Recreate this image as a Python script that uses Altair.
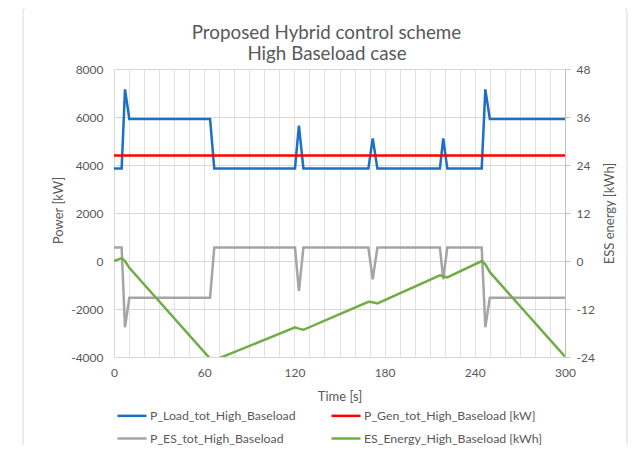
import altair as alt
import pandas as pd

title_lines = ["Proposed Hybrid control scheme", "High Baseload case"]

series_names = [
    "P_Load_tot_High_Baseload",
    "P_Gen_tot_High_Baseload [kW]",
    "P_ES_tot_High_Baseload",
    "ES_Energy_High_Baseload [kWh]",
]
series_colors = ["#1C6FC2", "#FF0000", "#A5A5A5", "#70AD47"]

load_t = [0, 5.1, 7.3, 10.2, 63.9, 66.7, 120.4, 123, 126, 169.2, 172.1, 175.2,
          216.8, 219, 221.7, 244.6, 247, 250, 300]
load_kw = [3850, 3850, 7150, 5920, 5920, 3850, 3850, 5640, 3850, 3850, 5110, 3850,
           3850, 5110, 3850, 3850, 7150, 5920, 5920]

gen_t = [0, 300]
gen_kw = [4400, 4400]

es_t = [0, 5.1, 7.3, 10.2, 63.9, 66.7, 120.4, 123, 126, 169.2, 172.1, 175.2,
        216.8, 219, 221.7, 244.6, 247, 250, 300]
es_kw = [560, 560, -2760, -1530, -1530, 560, 560, -1250, 560, 560, -760, 560,
         560, -760, 560, 560, -2760, -1530, -1530]

energy_t = [0, 5.1, 7.3, 10.2, 63.9, 66.7, 120.4, 123, 126, 169.2, 172.1, 175.2,
            216.8, 219, 221.7, 244.6, 247, 250, 300]
energy_kwh = [0, 0.7, 0.0, -1.7, -24.4, -24.8, -16.6, -16.9, -17.2, -10.2, -10.3, -10.6,
              -3.6, -3.8, -4.1, 0.0, -0.8, -2.8, -23.9]

x_grid_values = list(range(0, 301, 10))
left_ticks = [-4000, -2000, 0, 2000, 4000, 6000, 8000]
right_ticks = [-24, -12, 0, 12, 24, 36, 48]

rows = []
for t, v in zip(load_t, load_kw):
    rows.append({"t": t, "value": v, "series": series_names[0]})
for t, v in zip(gen_t, gen_kw):
    rows.append({"t": t, "value": v, "series": series_names[1]})
for t, v in zip(es_t, es_kw):
    rows.append({"t": t, "value": v, "series": series_names[2]})
power_df = pd.DataFrame(rows)
energy_df = pd.DataFrame({"t": energy_t, "value": energy_kwh, "series": series_names[3]})

FONT = "Lato"
TXT = "#595959"

color = alt.Color(
    "series:N",
    scale=alt.Scale(domain=series_names, range=series_colors),
    legend=alt.Legend(
        orient="none", legendX=2, legendY=330.5, columns=2, direction="horizontal",
        title=None, symbolType="stroke", symbolSize=841, symbolStrokeWidth=2.5,
        labelFont=FONT, labelFontSize=12.3, labelColor=TXT, labelOffset=2,
        columnPadding=30, rowPadding=-7, padding=0, labelLimit=400,
    ),
)

x = alt.X(
    "t:Q",
    scale=alt.Scale(domain=[0, 300], nice=False, zero=False),
    axis=alt.Axis(
        values=x_grid_values,
        labelExpr="datum.value % 60 == 0 ? datum.value + '' : ''",
        title="Time [s]", titleX=225.5, titleY=39, titleBaseline="middle",
        titleFont=FONT, titleFontSize=13, titleFontWeight="normal", titleColor=TXT,
        grid=True, gridColor="#E2E2E2", ticks=False, tickSize=0, labelPadding=10,
        domainColor="#D9D9D9", labelFont=FONT, labelFontSize=12, labelColor=TXT,
        labelFlush=False, labelOverlap=False,
    ),
)

left = alt.Chart(power_df).mark_line(strokeWidth=2.5, clip=True).encode(
    x=x,
    y=alt.Y(
        "value:Q",
        scale=alt.Scale(domain=[-4000, 8000], nice=False, zero=False),
        axis=alt.Axis(
            orient="left", values=left_ticks, labelExpr="datum.value + ''",
            title="Power [kW]", titleAngle=270, titleX=-56, titleY=141,
            titleBaseline="middle", titleFont=FONT, titleFontSize=13,
            titleFontWeight="normal", titleColor=TXT,
            grid=True, gridColor="#D9D9D9", ticks=False, tickSize=0, labelPadding=11,
            domainColor="#D9D9D9", labelFont=FONT, labelFontSize=12, labelColor=TXT,
        ),
    ),
    color=color,
    strokeWidth=alt.StrokeWidth(
        "series:N",
        scale=alt.Scale(domain=series_names, range=[2.5, 2.5, 2.0, 2.5]),
        legend=None,
    ),
)

right = alt.Chart(energy_df).mark_line(strokeWidth=2.5, clip=True).encode(
    x=x,
    y=alt.Y(
        "value:Q",
        scale=alt.Scale(domain=[-24, 48], nice=False, zero=False),
        axis=alt.Axis(
            orient="right", values=right_ticks, labelExpr="datum.value + ''",
            title="ESS energy [kWh]", titleAngle=270, titleX=44, titleY=144,
            titleBaseline="middle", titleFont=FONT, titleFontSize=13,
            titleFontWeight="normal", titleColor=TXT,
            grid=False, ticks=True, tickSize=5, tickColor="#BFBFBF", labelPadding=6,
            domainColor="#BFBFBF", labelFont=FONT, labelFontSize=12, labelColor=TXT,
        ),
    ),
    color=color,
)

border = alt.Chart(pd.DataFrame({"k": [0]})).mark_rect(
    filled=False, stroke="#D9D9D9", strokeWidth=1, cornerRadius=4
).encode(
    x=alt.value(-91), x2=alt.value(513), y=alt.value(-62), y2=alt.value(392)
)

title1 = alt.Chart(pd.DataFrame({"line": [title_lines[0]]})).mark_text(
    font=FONT, fontSize=18.8, color=TXT, align="center", baseline="middle"
).encode(text="line:N", x=alt.value(212.5), y=alt.value(-35.7))

title2 = alt.Chart(pd.DataFrame({"line": [title_lines[1]]})).mark_text(
    font=FONT, fontSize=18.8, color=TXT, align="center", baseline="middle"
).encode(text="line:N", x=alt.value(213), y=alt.value(-14.7))

chart = alt.layer(border, title1, title2, left, right).resolve_scale(
    y="independent"
).properties(
    width=451,
    height=288,
    autosize=alt.AutoSizeParams(type="none"),
    padding={"left": 106, "top": 61, "right": 63, "bottom": 88},
).configure_view(strokeWidth=0).configure(background="white")

chart.save("out.html", embed_options={"renderer": "svg", "actions": False})
